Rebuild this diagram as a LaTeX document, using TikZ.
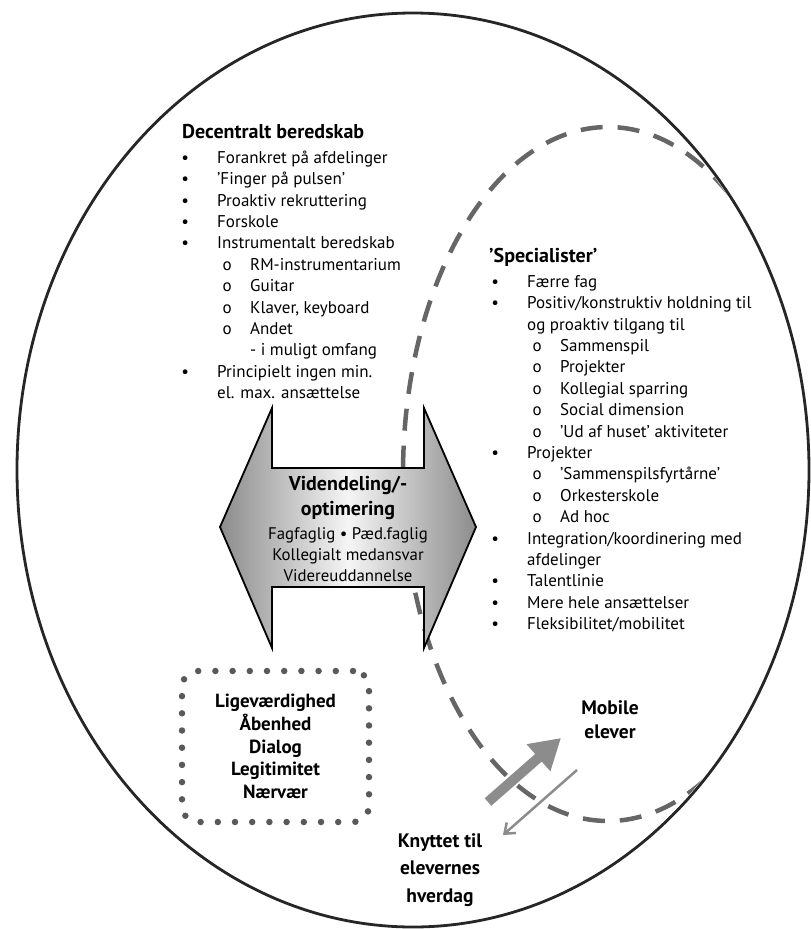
\documentclass[tikz,border=0pt]{standalone}
\usepackage{fontspec}
\setmainfont{PT Sans}
\usetikzlibrary{arrows.meta}

\newcommand{\blt}{\makebox[0pt][c]{\textbullet}\hspace*{32pt}}
\newcommand{\sbl}{\hspace*{42pt}\makebox[0pt][c]{o}\hspace*{23pt}}
\newcommand{\cnt}{\hspace*{32pt}}
\newcommand{\cns}{\hspace*{65pt}}

\begin{document}
\begin{tikzpicture}[x=1pt, y=-1pt,
    rim/.style={draw=black!85, line width=2.8pt},
    trail/.style={draw=black!60, line width=4.5pt, dash pattern=on 22pt off 15pt},
    head/.style={anchor=base west, inner sep=0pt, font=\fontsize{20}{24}\selectfont\bfseries},
    lst/.style={anchor=north west, inner sep=0pt, align=left, font=\fontsize{17}{21.4}\selectfont},
    lbl/.style={inner sep=0pt, align=center, font=\fontsize{19.5}{24}\selectfont\bfseries},
    dotbox/.style={draw=black!65, line width=6.5pt, line cap=round, dash pattern=on 0pt off 17.2pt,
        rounded corners=16pt, minimum width=187pt, minimum height=151pt},
    fat/.style={draw=black!45, line width=10pt, -{Triangle[length=30pt,width=34pt]}},
    thin/.style={draw=black!45, line width=2.5pt, -{Straight Barb[length=9pt,width=14pt]}}]

    \useasboundingbox (0,0) rectangle (811,929);

    % outer ring and the dashed specialist area
    \draw[rim] (413,470) ellipse [x radius=396, y radius=457];
    \begin{scope}
        \clip (413,470) ellipse [x radius=394, y radius=455];
        \draw[trail] (608,474) ellipse [x radius=205, y radius=347];
    \end{scope}

    % left list
    \node[head] (dec) at (182,138) {Decentralt beredskab};
    \node[lst] (declist) at (185,148) {\blt\rule{0pt}{15pt}Forankret på afdelinger\\
        \blt ’Finger på pulsen’\\
        \blt Proaktiv rekruttering\\
        \blt Forskole\\
        \blt Instrumentalt beredskab\\
        \sbl RM-instrumentarium\\
        \sbl Guitar\\
        \sbl Klaver, keyboard\\
        \sbl Andet\\
        \cns - i muligt omfang\\
        \blt Principielt ingen min.\\
        \cnt el. max. ansættelse};

    % right list
    \node[head] (spec) at (489,262) {’Specialister’};
    \node[lst] (speclist) at (495,272) {\blt\rule{0pt}{15pt}Færre fag\\
        \blt Positiv/konstruktiv holdning til\\
        \cnt og proaktiv tilgang til\\
        \sbl Sammenspil\\
        \sbl Projekter\\
        \sbl Kollegial sparring\\
        \sbl Social dimension\\
        \sbl ’Ud af huset’ aktiviteter\\
        \blt Projekter\\
        \sbl ’Sammenspilsfyrtårne’\\
        \sbl Orkesterskole\\
        \sbl Ad hoc\\
        \blt Integration/koordinering med\\
        \cnt afdelinger\\
        \blt Talentlinie\\
        \blt Mere hele ansættelser\\
        \blt Fleksibilitet/mobilitet};

    % double arrow in the middle
    \draw[line width=1.8pt, left color=black!45, right color=black!45, middle color=black!4]
        (220,527) -- (272,408) -- (272,468) -- (424,468) -- (424,408) -- (476,527)
        -- (424,648) -- (424,587) -- (272,587) -- (272,648) -- cycle;
    \node[lbl, font=\fontsize{20}{25}\selectfont\bfseries] (vid) at (348,498) {Videndeling/-\\optimering};
    \node[lbl, font=\fontsize{16.8}{21}\selectfont] (vidsub) at (348,555)
        {Fagfaglig \textbullet{} Pæd.faglig\\Kollegialt medansvar\\Videreuddannelse};

    % values
    \node[dotbox, lbl, font=\fontsize{19}{22.8}\selectfont\bfseries] (vaerdi) at (275.5,746.5)
        {Ligeværdighed\\Åbenhed\\Dialog\\Legitimitet\\Nærvær};

    % pupils
    \node[lbl] (mob) at (610,720) {Mobile\\elever};
    \node[lbl, font=\fontsize{19.5}{27.5}\selectfont\bfseries] (knyt) at (440,870) {Knyttet til\\elevernes\\hverdag};
    \coordinate (fat-s) at (488,802);
    \coordinate (fat-e) at (561,738);
    \coordinate (thin-s) at (577,770);
    \coordinate (thin-e) at (503,835);
    \draw[fat] (fat-s) -- (fat-e);
    \draw[thin] (thin-s) -- (thin-e);
\end{tikzpicture}
\end{document}
